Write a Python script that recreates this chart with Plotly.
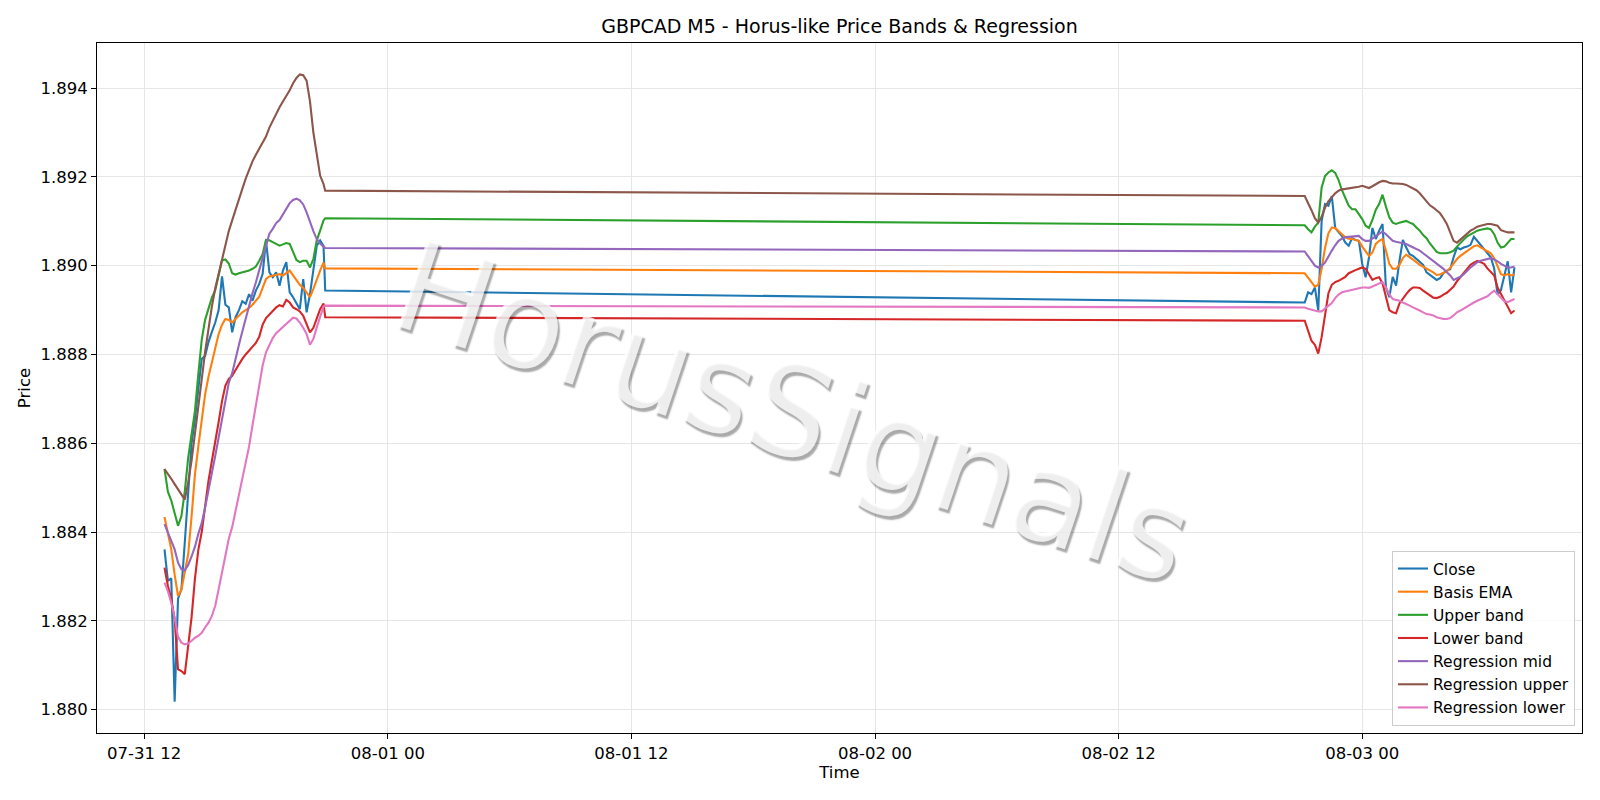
import pandas as pd
import plotly.graph_objects as go

# ---- time axis (5-minute chart, sampled every 10 minutes) ----
seg1_times = list(pd.date_range("2026-07-31 13:00", periods=48, freq="10min")) + [pd.Timestamp("2026-07-31 20:55")]
seg2_times = list(pd.date_range("2026-08-02 21:10", periods=63, freq="10min"))

# ---- series values : Friday session ----
close_1 = [1.88361, 1.88290, 1.88296, 1.88018, 1.88250, 1.88271, 1.88377, 1.88500, 1.88600, 1.88655,
           1.88727, 1.88790, 1.88797, 1.88828, 1.88851, 1.88872, 1.88900, 1.88976, 1.88912, 1.88906,
           1.88850, 1.88884, 1.88900, 1.88920, 1.88914, 1.88936, 1.88921, 1.88944, 1.88959, 1.88981,
           1.89057, 1.88985, 1.88974, 1.88985, 1.88955, 1.88989, 1.89008, 1.88940, 1.88929, 1.88914,
           1.88902, 1.88970, 1.88895, 1.88936, 1.88989, 1.89045, 1.89057, 1.89045, 1.88944]
basis_1 = [1.88434, 1.88393, 1.88361, 1.88304, 1.88256, 1.88270, 1.88312, 1.88350, 1.88435, 1.88530,
           1.88593, 1.88652, 1.88710, 1.88750, 1.88784, 1.88816, 1.88846, 1.88867, 1.88880, 1.88878,
           1.88872, 1.88880, 1.88888, 1.88895, 1.88900, 1.88905, 1.88912, 1.88920, 1.88930, 1.88950,
           1.88970, 1.88976, 1.88978, 1.88980, 1.88981, 1.88978, 1.88983, 1.88989, 1.88978, 1.88966,
           1.88957, 1.88950, 1.88940, 1.88929, 1.88948, 1.88970, 1.88989, 1.89007, 1.88994]
upper_1 = [1.88542, 1.88491, 1.88471, 1.88442, 1.88414, 1.88436, 1.88492, 1.88567, 1.88621, 1.88673,
           1.88756, 1.88833, 1.88878, 1.88903, 1.88928, 1.88945, 1.88977, 1.89012, 1.89014, 1.89005,
           1.88983, 1.88980, 1.88983, 1.88985, 1.88987, 1.88989, 1.88993, 1.88998, 1.89011, 1.89026,
           1.89058, 1.89057, 1.89053, 1.89048, 1.89045, 1.89048, 1.89051, 1.89049, 1.89030, 1.89013,
           1.89008, 1.89011, 1.89011, 1.88996, 1.89015, 1.89057, 1.89079, 1.89102, 1.89107]
lower_1 = [1.88320, 1.88279, 1.88249, 1.88204, 1.88091, 1.88087, 1.88080, 1.88144, 1.88208, 1.88295,
           1.88360, 1.88400, 1.88460, 1.88515, 1.88560, 1.88600, 1.88648, 1.88695, 1.88730, 1.88745,
           1.88752, 1.88765, 1.88778, 1.88790, 1.88800, 1.88808, 1.88816, 1.88826, 1.88840, 1.88867,
           1.88882, 1.88889, 1.88898, 1.88906, 1.88911, 1.88908, 1.88923, 1.88917, 1.88906, 1.88902,
           1.88897, 1.88887, 1.88867, 1.88850, 1.88860, 1.88880, 1.88902, 1.88915, 1.88884]
reg_mid_1 = [1.88418, 1.88399, 1.88380, 1.88361, 1.88331, 1.88316, 1.88314, 1.88326, 1.88345, 1.88367,
             1.88396, 1.88420, 1.88455, 1.88492, 1.88530, 1.88572, 1.88613, 1.88653, 1.88698, 1.88736,
             1.88758, 1.88792, 1.88822, 1.88852, 1.88882, 1.88912, 1.88938, 1.88962, 1.88987, 1.89017,
             1.89045, 1.89072, 1.89083, 1.89096, 1.89103, 1.89115, 1.89128, 1.89141, 1.89148, 1.89151,
             1.89147, 1.89138, 1.89120, 1.89098, 1.89078, 1.89060, 1.89050, 1.89043, 1.89040]
reg_upper_1 = [1.88542, 1.88532, 1.88520, 1.88508, 1.88496, 1.88483, 1.88473, 1.88512, 1.88561, 1.88622,
               1.88679, 1.88744, 1.88806, 1.88863, 1.88908, 1.88949, 1.88981, 1.89014, 1.89048, 1.89078,
               1.89102, 1.89124, 1.89150, 1.89173, 1.89196, 1.89218, 1.89235, 1.89250, 1.89263, 1.89276,
               1.89291, 1.89311, 1.89327, 1.89341, 1.89357, 1.89370, 1.89381, 1.89395, 1.89411, 1.89423,
               1.89431, 1.89429, 1.89417, 1.89370, 1.89300, 1.89248, 1.89203, 1.89184, 1.89169]
reg_lower_1 = [1.88286, 1.88267, 1.88241, 1.88207, 1.88164, 1.88151, 1.88147, 1.88149, 1.88155, 1.88162,
               1.88166, 1.88173, 1.88185, 1.88196, 1.88211, 1.88234, 1.88271, 1.88312, 1.88350, 1.88385,
               1.88411, 1.88447, 1.88484, 1.88520, 1.88556, 1.88593, 1.88640, 1.88687, 1.88735, 1.88775,
               1.88805, 1.88820, 1.88837, 1.88848, 1.88855, 1.88863, 1.88870, 1.88876, 1.88883, 1.88881,
               1.88872, 1.88860, 1.88846, 1.88822, 1.88835, 1.88861, 1.88887, 1.88908, 1.88910]

# ---- series values : Sunday/Monday session ----
close_2 = [1.88917, 1.88940, 1.88936, 1.88951, 1.88899, 1.89101, 1.89139, 1.89135, 1.89157, 1.89085,
           1.89077, 1.89067, 1.89052, 1.89045, 1.89062, 1.89058, 1.89056, 1.89004, 1.88974, 1.89019,
           1.89085, 1.89060, 1.89079, 1.89094, 1.88951, 1.88929, 1.88975, 1.88955, 1.89011, 1.89058,
           1.89041, 1.89026, 1.89022, 1.89015, 1.89008, 1.89002, 1.88985, 1.88979, 1.88972, 1.88968,
           1.88972, 1.88983, 1.88989, 1.88992, 1.89019, 1.89041, 1.89037, 1.89041, 1.89043, 1.89047,
           1.89065, 1.89056, 1.89046, 1.89039, 1.89028, 1.89019, 1.88993, 1.88935, 1.88945, 1.88978,
           1.89010, 1.88940, 1.88996]
basis_2 = [1.88983, 1.88974, 1.88963, 1.88953, 1.88957, 1.88993, 1.89040, 1.89073, 1.89086, 1.89085,
           1.89079, 1.89071, 1.89064, 1.89061, 1.89060, 1.89058, 1.89056, 1.89043, 1.89032, 1.89022,
           1.89030, 1.89049, 1.89056, 1.89060, 1.89034, 1.89004, 1.88993, 1.88993, 1.89002, 1.89017,
           1.89025, 1.89020, 1.89015, 1.89008, 1.89002, 1.88998, 1.88994, 1.88989, 1.88985, 1.88979,
           1.88980, 1.88984, 1.88987, 1.88995, 1.89005, 1.89015, 1.89022, 1.89028, 1.89034, 1.89039,
           1.89044, 1.89046, 1.89041, 1.89036, 1.89032, 1.89028, 1.89017, 1.88998, 1.88981, 1.88978,
           1.88981, 1.88978, 1.88980]
upper_2 = [1.89091, 1.89082, 1.89075, 1.89088, 1.89097, 1.89176, 1.89202, 1.89210, 1.89215, 1.89209,
           1.89193, 1.89170, 1.89152, 1.89135, 1.89127, 1.89127, 1.89116, 1.89105, 1.89090, 1.89085,
           1.89103, 1.89126, 1.89139, 1.89160, 1.89133, 1.89109, 1.89097, 1.89094, 1.89097, 1.89099,
           1.89101, 1.89097, 1.89094, 1.89086, 1.89079, 1.89069, 1.89062, 1.89050, 1.89041, 1.89031,
           1.89028, 1.89028, 1.89028, 1.89030, 1.89034, 1.89043, 1.89052, 1.89059, 1.89066, 1.89070,
           1.89075, 1.89079, 1.89081, 1.89082, 1.89084, 1.89082, 1.89071, 1.89052, 1.89041, 1.89043,
           1.89052, 1.89060, 1.89060]
lower_2 = [1.88876, 1.88852, 1.88831, 1.88822, 1.88802, 1.88839, 1.88893, 1.88938, 1.88957, 1.88963,
           1.88966, 1.88970, 1.88975, 1.88983, 1.88987, 1.88990, 1.88993, 1.88996, 1.88993, 1.88981,
           1.88968, 1.88972, 1.88974, 1.88960, 1.88933, 1.88900, 1.88895, 1.88893, 1.88915, 1.88927,
           1.88936, 1.88945, 1.88951, 1.88951, 1.88950, 1.88944, 1.88938, 1.88932, 1.88928, 1.88927,
           1.88930, 1.88935, 1.88939, 1.88946, 1.88953, 1.88965, 1.88974, 1.88984, 1.88993, 1.89002,
           1.89007, 1.89011, 1.89008, 1.89004, 1.88994, 1.88987, 1.88978, 1.88951, 1.88936, 1.88923,
           1.88906, 1.88893, 1.88899]
reg_mid_2 = [1.89032, 1.89022, 1.89010, 1.89000, 1.88996, 1.89000, 1.89007, 1.89022, 1.89034, 1.89046,
             1.89056, 1.89061, 1.89064, 1.89065, 1.89066, 1.89067, 1.89067, 1.89060, 1.89056, 1.89056,
             1.89061, 1.89065, 1.89070, 1.89077, 1.89071, 1.89064, 1.89056, 1.89054, 1.89052, 1.89051,
             1.89049, 1.89045, 1.89041, 1.89037, 1.89034, 1.89028, 1.89022, 1.89017, 1.89011, 1.89005,
             1.89000, 1.88993, 1.88985, 1.88978, 1.88968, 1.88972, 1.88975, 1.88981, 1.88989, 1.88996,
             1.89002, 1.89008, 1.89011, 1.89013, 1.89016, 1.89017, 1.89014, 1.89010, 1.89004, 1.89000,
             1.88996, 1.88996, 1.88998]
reg_upper_2 = [1.89157, 1.89142, 1.89125, 1.89107, 1.89097, 1.89110, 1.89131, 1.89145, 1.89155, 1.89163,
               1.89169, 1.89172, 1.89173, 1.89174, 1.89175, 1.89176, 1.89178, 1.89180, 1.89178, 1.89175,
               1.89179, 1.89184, 1.89188, 1.89191, 1.89190, 1.89187, 1.89185, 1.89185, 1.89185, 1.89184,
               1.89182, 1.89178, 1.89174, 1.89170, 1.89163, 1.89154, 1.89146, 1.89136, 1.89131, 1.89125,
               1.89118, 1.89107, 1.89094, 1.89075, 1.89056, 1.89052, 1.89059, 1.89065, 1.89071, 1.89079,
               1.89083, 1.89088, 1.89090, 1.89092, 1.89094, 1.89094, 1.89092, 1.89090, 1.89080, 1.89077,
               1.89075, 1.89075, 1.89075]
reg_lower_2 = [1.88906, 1.88903, 1.88901, 1.88899, 1.88897, 1.88897, 1.88904, 1.88910, 1.88916, 1.88927,
               1.88935, 1.88940, 1.88942, 1.88944, 1.88945, 1.88948, 1.88950, 1.88951, 1.88951, 1.88950,
               1.88953, 1.88956, 1.88960, 1.88963, 1.88951, 1.88936, 1.88925, 1.88923, 1.88921, 1.88917,
               1.88914, 1.88910, 1.88906, 1.88903, 1.88899, 1.88895, 1.88891, 1.88890, 1.88888, 1.88884,
               1.88882, 1.88880, 1.88880, 1.88882, 1.88888, 1.88895, 1.88899, 1.88904, 1.88909, 1.88912,
               1.88917, 1.88921, 1.88924, 1.88927, 1.88931, 1.88938, 1.88944, 1.88936, 1.88927, 1.88920,
               1.88918, 1.88921, 1.88925]

series_names = ["Close", "Basis EMA", "Upper band", "Lower band",
                "Regression mid", "Regression upper", "Regression lower"]
series_colors = ["#1f77b4", "#ff7f0e", "#2ca02c", "#d62728", "#9467bd", "#8c564b", "#e377c2"]

times = seg1_times + seg2_times
series_values = [close_1 + close_2, basis_1 + basis_2, upper_1 + upper_2, lower_1 + lower_2,
                 reg_mid_1 + reg_mid_2, reg_upper_1 + reg_upper_2, reg_lower_1 + reg_lower_2]

FONT = "DejaVu Sans"
FS = 16.5
fig = go.Figure()
for name, color, vals in zip(series_names, series_colors, series_values):
    fig.add_trace(go.Scatter(x=times, y=vals, mode="lines", name=name, legendgroup=name,
                             line=dict(color=color, width=2.1)))

# axis ranges with 5% padding (matplotlib-like autoscale)
tmin, tmax = times[0], times[-1]
span = tmax - tmin
x_range = [tmin - 0.05 * span, tmax + 0.05 * span]
all_vals = [v for s in series_values for v in s]
vmin, vmax = min(all_vals), max(all_vals)
vpad = 0.05 * (vmax - vmin)
y_range = [vmin - vpad, vmax + vpad]

grid_col = "#e6e6e6"
axis_common = dict(showline=True, mirror=True, linecolor="black", linewidth=1.1,
                   ticks="outside", ticklen=5, tickwidth=1.1, tickcolor="black",
                   showgrid=True, gridcolor=grid_col, gridwidth=1.1, zeroline=False,
                   automargin=False,
                   tickfont=dict(family=FONT, size=FS, color="black"))

fig.update_layout(
    width=1600, height=800,
    margin=dict(l=97, r=18, t=43, b=67),
    paper_bgcolor="white", plot_bgcolor="white",
    font=dict(family=FONT, size=FS, color="black"),
    title=dict(text="GBPCAD M5 - Horus-like Price Bands & Regression",
               x=0.5, xref="paper", xanchor="center",
               y=1 - 26.5 / 800, yref="container", yanchor="middle",
               font=dict(family=FONT, size=19, color="black")),
    xaxis=dict(range=x_range, tickformat="%m-%d %H", dtick=12 * 3600 * 1000,
               tick0="2026-07-31 00:00",
               title=dict(text="Time", standoff=4, font=dict(family=FONT, size=FS)),
               **axis_common),
    yaxis=dict(range=y_range, tickformat=".3f", dtick=0.002, tick0=1.880,
               title=dict(text="Price", standoff=5, font=dict(family=FONT, size=FS)),
               **axis_common),
    showlegend=True,
    legend=dict(x=0.9953, y=0.0102, xanchor="right", yanchor="bottom",
                bgcolor="rgba(255,255,255,0.8)", bordercolor="#cccccc", borderwidth=1,
                font=dict(family=FONT, size=15.5, color="black"),
                traceorder="normal", tracegroupgap=0),
)

fig.add_annotation(text="HorusSignals", xref="paper", yref="paper", x=0.4690, y=0.4650,
                   showarrow=False, textangle=18.5,
                   font=dict(family=FONT, size=127, color="rgba(255,255,255,0.8)",
                             shadow="3px 3px 1.5px rgba(0,0,0,0.42)"))

fig.write_html("out.html", config={"displayModeBar": False},
               post_script="document.body.style.margin='0px';")
